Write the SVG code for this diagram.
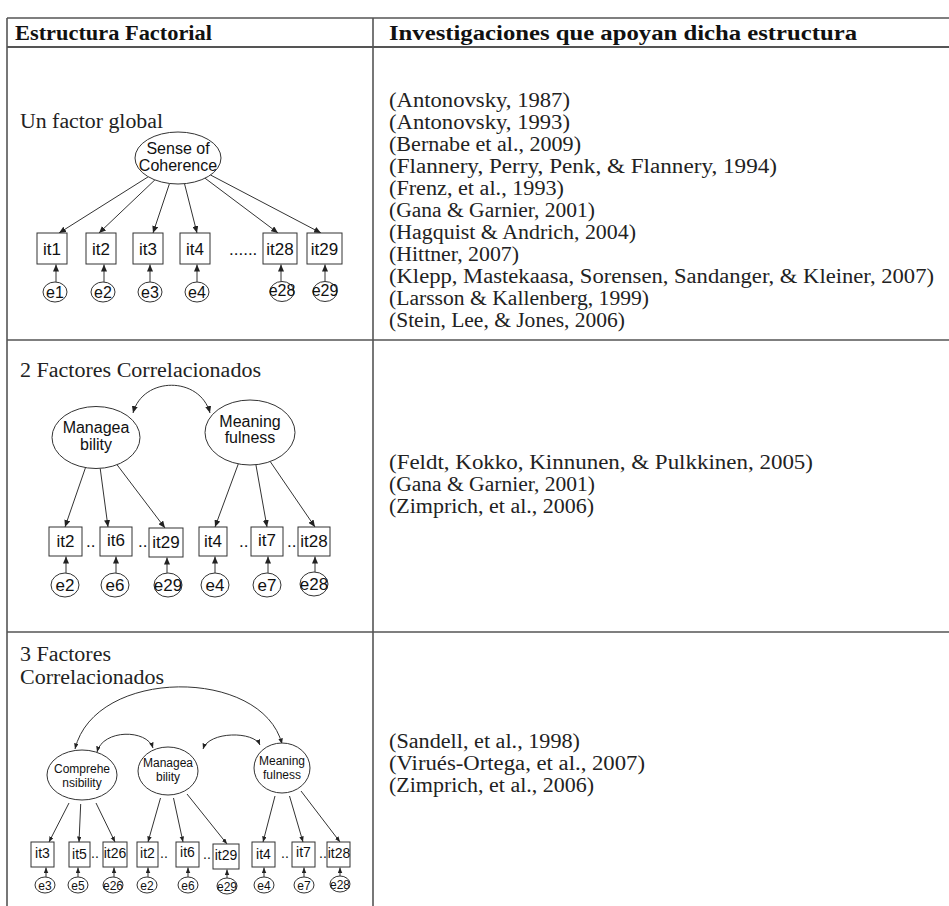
<svg xmlns="http://www.w3.org/2000/svg" width="949" height="906" viewBox="0 0 949 906">
<style>
.tl{stroke:#555;stroke-width:1.6;fill:none}
.st{font-family:"Liberation Serif","Times New Roman",serif;font-size:20.5px;fill:#222}
.hd{font-weight:bold;fill:#111}
.nd ellipse,.nd rect{fill:#fff;stroke:#333;stroke-width:1}
.lb{font-family:"Liberation Sans",Arial,sans-serif;text-anchor:middle;fill:#111}
.f16{font-size:16px}.f17{font-size:17px}.f12{font-size:12px}.f14{font-size:14px}
.dt{font-family:"Liberation Sans",Arial,sans-serif;fill:#111}
#conn line,#conn path{stroke:#333;stroke-width:1;fill:none}
</style>
<defs>
<marker id="ah" markerUnits="userSpaceOnUse" markerWidth="8" markerHeight="6" refX="7" refY="3" orient="auto-start-reverse"><path d="M0,0 L7,3 L0,6 z" fill="#222"/></marker>
<marker id="as" markerUnits="userSpaceOnUse" markerWidth="6" markerHeight="5" refX="5.5" refY="2.25" orient="auto-start-reverse"><path d="M0,0 L5.5,2.25 L0,4.5 z" fill="#222"/></marker>
</defs>
<rect width="949" height="906" fill="#fff"/>

<g id="table">
<line class="tl" x1="7" y1="18" x2="949" y2="18"/>
<line class="tl" x1="7" y1="47" x2="949" y2="47" style="stroke-width:2"/>
<line class="tl" x1="7" y1="340" x2="949" y2="340"/>
<line class="tl" x1="7" y1="632" x2="949" y2="632"/>
<line class="tl" x1="7" y1="18" x2="7" y2="906"/>
<line class="tl" x1="373" y1="18" x2="373" y2="906"/>
<text class="st hd" x="15" y="40" textLength="197" lengthAdjust="spacingAndGlyphs">Estructura Factorial</text>
<text class="st hd" x="389" y="40" textLength="468" lengthAdjust="spacingAndGlyphs">Investigaciones que apoyan dicha estructura</text>
</g>

<g id="refs1" class="st">
<text x="389" y="107" textLength="181" lengthAdjust="spacingAndGlyphs">(Antonovsky, 1987)</text>
<text x="389" y="129" textLength="181" lengthAdjust="spacingAndGlyphs">(Antonovsky, 1993)</text>
<text x="389" y="151" textLength="192" lengthAdjust="spacingAndGlyphs">(Bernabe et al., 2009)</text>
<text x="389" y="173" textLength="388" lengthAdjust="spacingAndGlyphs">(Flannery, Perry, Penk, &amp; Flannery, 1994)</text>
<text x="389" y="195" textLength="175" lengthAdjust="spacingAndGlyphs">(Frenz, et al., 1993)</text>
<text x="389" y="217" textLength="206" lengthAdjust="spacingAndGlyphs">(Gana &amp; Garnier, 2001)</text>
<text x="389" y="239" textLength="247" lengthAdjust="spacingAndGlyphs">(Hagquist &amp; Andrich, 2004)</text>
<text x="389" y="261" textLength="130" lengthAdjust="spacingAndGlyphs">(Hittner, 2007)</text>
<text x="389" y="283" textLength="545" lengthAdjust="spacingAndGlyphs">(Klepp, Mastekaasa, Sorensen, Sandanger, &amp; Kleiner, 2007)</text>
<text x="389" y="305" textLength="260" lengthAdjust="spacingAndGlyphs">(Larsson &amp; Kallenberg, 1999)</text>
<text x="389" y="327" textLength="236" lengthAdjust="spacingAndGlyphs">(Stein, Lee, &amp; Jones, 2006)</text>
</g>
<g id="refs2" class="st">
<text x="389" y="469" textLength="424" lengthAdjust="spacingAndGlyphs">(Feldt, Kokko, Kinnunen, &amp; Pulkkinen, 2005)</text>
<text x="389" y="491" textLength="206" lengthAdjust="spacingAndGlyphs">(Gana &amp; Garnier, 2001)</text>
<text x="389" y="513" textLength="205" lengthAdjust="spacingAndGlyphs">(Zimprich, et al., 2006)</text>
</g>
<g id="refs3" class="st">
<text x="389" y="748" textLength="191" lengthAdjust="spacingAndGlyphs">(Sandell, et al., 1998)</text>
<text x="389" y="770" textLength="256" lengthAdjust="spacingAndGlyphs">(Virués-Ortega, et al., 2007)</text>
<text x="389" y="792" textLength="205" lengthAdjust="spacingAndGlyphs">(Zimprich, et al., 2006)</text>
</g>

<g id="titles" class="st">
<text x="20" y="128" textLength="143" lengthAdjust="spacingAndGlyphs">Un factor global</text>
<text x="20" y="377" textLength="241" lengthAdjust="spacingAndGlyphs">2 Factores Correlacionados</text>
<text x="20" y="661" textLength="91" lengthAdjust="spacingAndGlyphs">3 Factores</text>
<text x="20" y="684" textLength="144" lengthAdjust="spacingAndGlyphs">Correlacionados</text>
</g>

<g id="conn">
<line x1="148.2" y1="176.8" x2="59" y2="233" marker-end="url(#ah)"/>
<line x1="154.9" y1="179.9" x2="99" y2="233" marker-end="url(#ah)"/>
<line x1="169.5" y1="183.5" x2="153" y2="233" marker-end="url(#ah)"/>
<line x1="184.5" y1="183.7" x2="197" y2="233" marker-end="url(#ah)"/>
<line x1="205" y1="178.2" x2="278" y2="233" marker-end="url(#ah)"/>
<line x1="210.5" y1="175" x2="321" y2="233" marker-end="url(#ah)"/>
<line x1="56" y1="282" x2="56" y2="264.5" marker-end="url(#ah)"/>
<line x1="104" y1="282" x2="104" y2="264.5" marker-end="url(#ah)"/>
<line x1="150" y1="282" x2="150" y2="264.5" marker-end="url(#ah)"/>
<line x1="197" y1="282" x2="197" y2="264.5" marker-end="url(#ah)"/>
<line x1="281" y1="281.5" x2="281" y2="264.5" marker-end="url(#ah)"/>
<line x1="325" y1="281.5" x2="325" y2="264.5" marker-end="url(#ah)"/>

<path d="M133,413 C143,376 200,376 210,413" marker-start="url(#ah)" marker-end="url(#ah)"/>
<line x1="85.5" y1="467.6" x2="65" y2="527" marker-end="url(#ah)"/>
<line x1="100.2" y1="468.4" x2="108" y2="527" marker-end="url(#ah)"/>
<line x1="117" y1="464.7" x2="165" y2="528" marker-end="url(#ah)"/>
<line x1="238.3" y1="463.9" x2="215" y2="527" marker-end="url(#ah)"/>
<line x1="255.9" y1="464.7" x2="267" y2="527" marker-end="url(#ah)"/>
<line x1="270.2" y1="461.5" x2="315" y2="527" marker-end="url(#ah)"/>
<line x1="66" y1="573" x2="66" y2="556.5" marker-end="url(#ah)"/>
<line x1="116" y1="573" x2="116" y2="556.5" marker-end="url(#ah)"/>
<line x1="167" y1="573" x2="167" y2="557.5" marker-end="url(#ah)"/>
<line x1="215" y1="573" x2="215" y2="556.5" marker-end="url(#ah)"/>
<line x1="268" y1="573" x2="268" y2="556.5" marker-end="url(#ah)"/>
<line x1="315" y1="572" x2="315" y2="556.5" marker-end="url(#ah)"/>

<path d="M75,749 C95,667 262,667 282,744" marker-start="url(#as)" marker-end="url(#as)"/>
<path d="M97,752 C103,729 147,729 153,748" marker-start="url(#as)" marker-end="url(#as)"/>
<path d="M203,749 C209,731 254,731 260,745" marker-start="url(#as)" marker-end="url(#as)"/>
<line x1="69" y1="803" x2="49" y2="842" marker-end="url(#as)"/>
<line x1="80.7" y1="804" x2="79" y2="842" marker-end="url(#as)"/>
<line x1="96" y1="803" x2="115" y2="842" marker-end="url(#as)"/>
<line x1="160.5" y1="798" x2="148" y2="842" marker-end="url(#as)"/>
<line x1="173.5" y1="798" x2="183" y2="842" marker-end="url(#as)"/>
<line x1="187" y1="794" x2="227" y2="844" marker-end="url(#as)"/>
<line x1="275" y1="796" x2="263" y2="842" marker-end="url(#as)"/>
<line x1="289.5" y1="796" x2="303" y2="842" marker-end="url(#as)"/>
<line x1="301" y1="791" x2="340" y2="842" marker-end="url(#as)"/>
<line x1="46" y1="877" x2="46" y2="867.5" marker-end="url(#as)"/>
<line x1="78" y1="877" x2="78" y2="867.5" marker-end="url(#as)"/>
<line x1="114" y1="877" x2="114" y2="867.5" marker-end="url(#as)"/>
<line x1="148" y1="877" x2="148" y2="867.5" marker-end="url(#as)"/>
<line x1="188" y1="877" x2="188" y2="867.5" marker-end="url(#as)"/>
<line x1="227" y1="878" x2="227" y2="869.5" marker-end="url(#as)"/>
<line x1="264" y1="877" x2="264" y2="867.5" marker-end="url(#as)"/>
<line x1="304" y1="877" x2="304" y2="867.5" marker-end="url(#as)"/>
<line x1="340" y1="876" x2="340" y2="867.5" marker-end="url(#as)"/>
</g>

<!-- Diagram 1 -->
<g id="d1-soc" class="nd"><ellipse cx="178" cy="158" rx="43" ry="26"/><text class="lb f16" x="178" y="154">Sense of</text><text class="lb f16" x="178" y="171">Coherence</text></g>
<g id="d1-it1" class="nd"><rect x="37" y="233" width="30" height="31"/><text class="lb f17" x="52" y="255">it1</text></g>
<g id="d1-it2" class="nd"><rect x="86" y="233" width="30" height="31"/><text class="lb f17" x="101" y="255">it2</text></g>
<g id="d1-it3" class="nd"><rect x="133" y="233" width="30" height="31"/><text class="lb f17" x="148" y="255">it3</text></g>
<g id="d1-it4" class="nd"><rect x="180" y="233" width="30" height="31"/><text class="lb f17" x="195" y="255">it4</text></g>
<g id="d1-dots"><text class="dt f17" x="229" y="255">......</text></g>
<g id="d1-it28" class="nd"><rect x="263" y="233" width="34" height="31"/><text class="lb f17" x="280" y="255">it28</text></g>
<g id="d1-it29" class="nd"><rect x="307" y="233" width="35" height="31"/><text class="lb f17" x="324.5" y="255">it29</text></g>
<g id="d1-e1" class="nd"><ellipse cx="55" cy="292" rx="12" ry="10"/><text class="lb f16" x="55" y="297.5">e1</text></g>
<g id="d1-e2" class="nd"><ellipse cx="103" cy="292" rx="12" ry="10"/><text class="lb f16" x="103" y="297.5">e2</text></g>
<g id="d1-e3" class="nd"><ellipse cx="150" cy="292" rx="12" ry="10"/><text class="lb f16" x="150" y="297.5">e3</text></g>
<g id="d1-e4" class="nd"><ellipse cx="197" cy="292" rx="12" ry="10"/><text class="lb f16" x="197" y="297.5">e4</text></g>
<g id="d1-e28" class="nd"><ellipse cx="282" cy="291.5" rx="12" ry="10"/><text class="lb f16" x="282" y="296">e28</text></g>
<g id="d1-e29" class="nd"><ellipse cx="325" cy="291.5" rx="12" ry="10"/><text class="lb f16" x="325" y="296">e29</text></g>

<!-- Diagram 2 -->
<g id="d2-man" class="nd"><ellipse cx="96" cy="437.5" rx="44" ry="31"/><text class="lb f16" x="96" y="433">Managea</text><text class="lb f16" x="96" y="450">bility</text></g>
<g id="d2-mea" class="nd"><ellipse cx="250" cy="432.5" rx="45" ry="32.5"/><text class="lb f16" x="250" y="427">Meaning</text><text class="lb f16" x="250" y="443">fulness</text></g>
<g id="d2-it2" class="nd"><rect x="49" y="527" width="33" height="29"/><text class="lb f17" x="65.5" y="547">it2</text></g>
<g id="d2-it6" class="nd"><rect x="100" y="527" width="32" height="29"/><text class="lb f17" x="116" y="546">it6</text></g>
<g id="d2-it29" class="nd"><rect x="149" y="528" width="34" height="29"/><text class="lb f17" x="166" y="548">it29</text></g>
<g id="d2-it4" class="nd"><rect x="199" y="527" width="28" height="29"/><text class="lb f17" x="213" y="547">it4</text></g>
<g id="d2-it7" class="nd"><rect x="251" y="527" width="32" height="29"/><text class="lb f17" x="267" y="546">it7</text></g>
<g id="d2-it28" class="nd"><rect x="298" y="527" width="32" height="29"/><text class="lb f17" x="314" y="547">it28</text></g>
<g id="d2-dots"><text class="dt f17" x="86" y="547">..</text><text class="dt f17" x="138" y="547">..</text><text class="dt f17" x="239" y="547">..</text><text class="dt f17" x="287" y="547">..</text></g>
<g id="d2-e2" class="nd"><ellipse cx="65" cy="585" rx="14" ry="12"/><text class="lb f17" x="65" y="591">e2</text></g>
<g id="d2-e6" class="nd"><ellipse cx="115" cy="585" rx="14" ry="12"/><text class="lb f17" x="115" y="591">e6</text></g>
<g id="d2-e29" class="nd"><ellipse cx="168" cy="585" rx="14" ry="12"/><text class="lb f17" x="168" y="591">e29</text></g>
<g id="d2-e4" class="nd"><ellipse cx="215" cy="585" rx="14" ry="12"/><text class="lb f17" x="215" y="591">e4</text></g>
<g id="d2-e7" class="nd"><ellipse cx="267" cy="585" rx="14" ry="12"/><text class="lb f17" x="267" y="591">e7</text></g>
<g id="d2-e28" class="nd"><ellipse cx="314" cy="584" rx="14" ry="12"/><text class="lb f17" x="314" y="590">e28</text></g>

<!-- Diagram 3 -->
<g id="d3-com" class="nd"><ellipse cx="82" cy="775" rx="35" ry="25"/><text class="lb f12" x="82" y="773">Comprehe</text><text class="lb f12" x="82" y="787">nsibility</text></g>
<g id="d3-man" class="nd"><ellipse cx="168" cy="771" rx="30" ry="24"/><text class="lb f12" x="168" y="767">Managea</text><text class="lb f12" x="168" y="781">bility</text></g>
<g id="d3-mea" class="nd"><ellipse cx="282" cy="768" rx="28" ry="25"/><text class="lb f12" x="282" y="765">Meaning</text><text class="lb f12" x="282" y="779">fulness</text></g>
<g id="d3-it3" class="nd"><rect x="31" y="842" width="23" height="25"/><text class="lb f14" x="42.5" y="858">it3</text></g>
<g id="d3-it5" class="nd"><rect x="69" y="842" width="21" height="25"/><text class="lb f14" x="79.5" y="859">it5</text></g>
<g id="d3-it26" class="nd"><rect x="103" y="842" width="24" height="25"/><text class="lb f14" x="115" y="858">it26</text></g>
<g id="d3-it2" class="nd"><rect x="137" y="842" width="21" height="25"/><text class="lb f14" x="147.5" y="858">it2</text></g>
<g id="d3-it6" class="nd"><rect x="176" y="842" width="23" height="25"/><text class="lb f14" x="187.5" y="857">it6</text></g>
<g id="d3-it29" class="nd"><rect x="213" y="844" width="26" height="25"/><text class="lb f14" x="226" y="860">it29</text></g>
<g id="d3-it4" class="nd"><rect x="252" y="842" width="23" height="25"/><text class="lb f14" x="263.5" y="859">it4</text></g>
<g id="d3-it7" class="nd"><rect x="292" y="842" width="23" height="25"/><text class="lb f14" x="303.5" y="857">it7</text></g>
<g id="d3-it28" class="nd"><rect x="327" y="842" width="23" height="25"/><text class="lb f14" x="339" y="858">it28</text></g>
<g id="d3-dots"><text class="dt f14" x="91" y="858">..</text><text class="dt f14" x="160" y="858">..</text><text class="dt f14" x="203" y="859">..</text><text class="dt f14" x="281" y="858">..</text><text class="dt f14" x="319" y="858">..</text></g>
<g id="d3-e3" class="nd"><ellipse cx="45" cy="885" rx="10" ry="8"/><text class="lb f12" x="45" y="889.5">e3</text></g>
<g id="d3-e5" class="nd"><ellipse cx="78" cy="885" rx="10" ry="8"/><text class="lb f12" x="78" y="889.5">e5</text></g>
<g id="d3-e26" class="nd"><ellipse cx="113" cy="885" rx="10" ry="8"/><text class="lb f12" x="113" y="889.5">e26</text></g>
<g id="d3-e2" class="nd"><ellipse cx="147" cy="885" rx="10" ry="8"/><text class="lb f12" x="147" y="889.5">e2</text></g>
<g id="d3-e6" class="nd"><ellipse cx="188" cy="885" rx="10" ry="8"/><text class="lb f12" x="188" y="889.5">e6</text></g>
<g id="d3-e29" class="nd"><ellipse cx="227" cy="886" rx="10" ry="8"/><text class="lb f12" x="227" y="890.5">e29</text></g>
<g id="d3-e4" class="nd"><ellipse cx="264" cy="885" rx="10" ry="8"/><text class="lb f12" x="264" y="889.5">e4</text></g>
<g id="d3-e7" class="nd"><ellipse cx="304" cy="885" rx="10" ry="8"/><text class="lb f12" x="304" y="889.5">e7</text></g>
<g id="d3-e28" class="nd"><ellipse cx="340" cy="884" rx="10" ry="8"/><text class="lb f12" x="340" y="888.5">e28</text></g>
</svg>
